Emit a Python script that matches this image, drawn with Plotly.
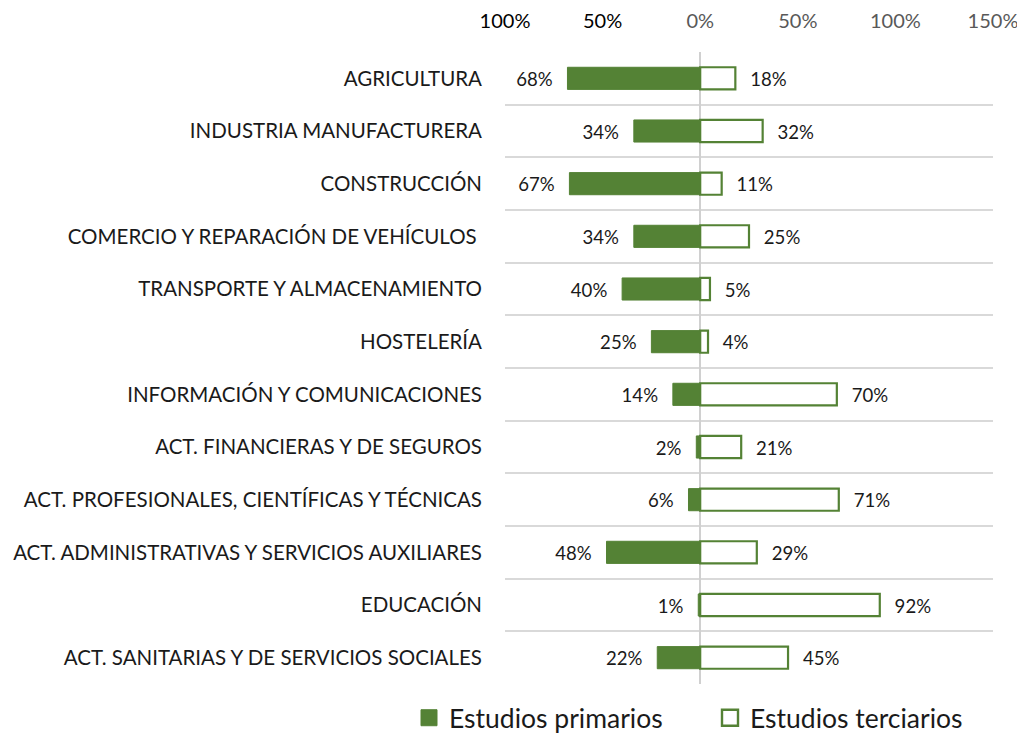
import plotly.graph_objects as go

categories = [
    "AGRICULTURA",
    "INDUSTRIA MANUFACTURERA",
    "CONSTRUCCIÓN",
    "COMERCIO Y REPARACIÓN DE VEHÍCULOS ",
    "TRANSPORTE Y ALMACENAMIENTO",
    "HOSTELERÍA",
    "INFORMACIÓN Y COMUNICACIONES",
    "ACT. FINANCIERAS Y DE SEGUROS",
    "ACT. PROFESIONALES, CIENTÍFICAS Y TÉCNICAS",
    "ACT. ADMINISTRATIVAS Y SERVICIOS AUXILIARES",
    "EDUCACIÓN",
    "ACT. SANITARIAS Y DE SERVICIOS SOCIALES",
]
primarios = [68, 34, 67, 34, 40, 25, 14, 2, 6, 48, 1, 22]
terciarios = [18, 32, 11, 25, 5, 4, 70, 21, 71, 29, 92, 45]
tick_vals = [-100, -50, 0, 50, 100, 150]
tick_text = ["100%", "50%", "0%", "50%", "100%", "150%"]

GREEN = "#548235"
FONT = "Lato, 'Open Sans', sans-serif"
PAD = "\u00a0\u00a0\u2009"
FS_CAT = 20.5
FS_LBL = 21
FS_TICK = 20

W, H = 1025, 733
OFF = 8  # page body margin in the browser

fig = go.Figure()
fig.add_trace(go.Bar(
    y=categories, x=[-v for v in primarios], orientation="h",
    name="Estudios primarios", showlegend=False,
    marker=dict(color=GREEN, line=dict(color=GREEN, width=1)),
    width=0.42,
    text=[f"{v}%" + PAD for v in primarios],
    textposition="outside", cliponaxis=False,
    textfont=dict(size=FS_LBL, color="#1a1a1a", family=FONT),
))
fig.add_trace(go.Bar(
    y=categories, x=terciarios, orientation="h",
    name="Estudios terciarios", showlegend=False,
    marker=dict(color="white", line=dict(color=GREEN, width=2.2)),
    width=0.42,
    text=[PAD + f"{v}%" for v in terciarios],
    textposition="outside", cliponaxis=False,
    textfont=dict(size=FS_LBL, color="#1a1a1a", family=FONT),
))
# legend entries (larger square symbols)
fig.add_trace(go.Scatter(
    x=[None], y=[None], mode="markers", name="Estudios primarios", legend="legend",
    marker=dict(symbol="square", size=20, color=GREEN, line=dict(color=GREEN, width=1)),
))
fig.add_trace(go.Scatter(
    x=[None], y=[None], mode="markers", name="Estudios terciarios", legend="legend2",
    marker=dict(symbol="square", size=19, color="white", line=dict(color=GREEN, width=2.4)),
))

tick_colors = ["#000000" if v < 0 else "#595959" for v in tick_vals]
legend_common = dict(
    orientation="h", xref="container", yref="container",
    xanchor="left", yanchor="middle", y=1 - (718 - OFF) / H,
    font=dict(size=26.5, family=FONT, color="#1a1a1a"),
    bgcolor="rgba(0,0,0,0)",
)
fig.update_layout(
    width=W, height=H,
    margin=dict(l=505 - OFF, r=W - (993 - OFF), t=52 - OFF, b=H - (684 - OFF), autoexpand=False),
    paper_bgcolor="white", plot_bgcolor="white",
    barmode="overlay",
    font=dict(family=FONT, size=FS_CAT, color="#1a1a1a"),
    xaxis=dict(
        side="top", range=[-100, 150],
        tickvals=tick_vals,
        ticktext=[f"<span style='color:{c}'>{t}</span>" for t, c in zip(tick_text, tick_colors)],
        tickfont=dict(size=FS_TICK, family=FONT),
        showgrid=False, zeroline=True, zerolinecolor="#d0d0d0", zerolinewidth=1.5,
        ticks="", ticklabelstandoff=19, fixedrange=True, automargin=False,
    ),
    yaxis=dict(
        type="category", autorange="reversed",
        tickson="boundaries", showgrid=True, gridcolor="#d9d9d9", gridwidth=1.5,
        ticks="", ticklabelstandoff=22, automargin=False,
        tickfont=dict(size=FS_CAT, family=FONT, color="#1a1a1a"),
        showline=False,
    ),
    legend=dict(legend_common, x=(409 - OFF) / W),
    legend2=dict(legend_common, x=(710 - OFF) / W),
    bargap=0.58,
)

fig.write_html("out.html")
